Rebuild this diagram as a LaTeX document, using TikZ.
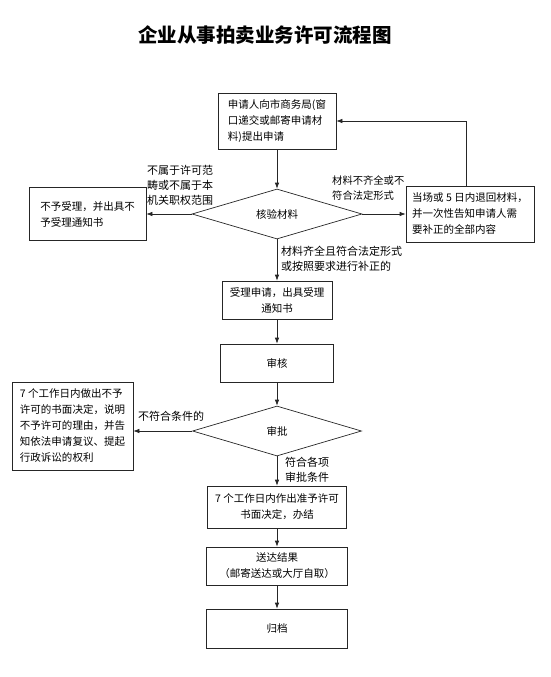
\documentclass[tikz,border=0pt]{standalone}
\usepackage{fontspec}
\setmainfont{Noto Sans CJK SC}
\usetikzlibrary{shapes.geometric,arrows.meta}

\begin{document}
\begin{tikzpicture}[x=1bp,y=-1bp,
  font=\fontsize{10.5bp}{16bp}\selectfont,
  box/.style={draw=black!85, line width=0.7bp, inner sep=0pt},
  dia/.style={draw=black!85, line width=0.7bp, diamond, aspect=3.4, inner sep=0pt,
    minimum width=170bp, minimum height=50bp},
  lab/.style={anchor=west, align=left, inner sep=0pt, font=\fontsize{11bp}{15bp}\selectfont},
  flow/.style={draw=black!85, line width=0.7bp, -{Latex[length=6bp,width=4.5bp]}}]
\def\xm{277}
\useasboundingbox (0,0) rectangle (551,677);
% title
\node[font=\fontsize{19.5bp}{22bp}\selectfont\bfseries] (title) at (265,35) {企业从事拍卖业务许可流程图};
% main column
\node[box, minimum width=118bp, minimum height=56bp, align=left] (apply) at (\xm,121)
  {申请人向市商务局(窗\\口递交或邮寄申请材\\料)提出申请};
\node[dia] (check) at (\xm,214) {核验材料};
\node[box, minimum width=117bp, minimum height=53bp, align=left] (reject) at (87.5,214)
  {不予受理，并出具不\\予受理通知书};
\node[box, minimum width=128bp, minimum height=56bp, align=left] (ret) at (470,214)
  {当场或 5 日内退回材料，\\并一次性告知申请人需\\要补正的全部内容};
\node[box, minimum width=110bp, minimum height=38bp, align=center] (accept) at (\xm,300)
  {受理申请，出具受理\\通知书};
\node[box, minimum width=113bp, minimum height=38bp] (review) at (\xm,363) {审核};
\node[dia, minimum width=169bp] (approve) at (\xm,431) {审批};
\node[box, minimum width=121bp, minimum height=88bp, align=left] (deny) at (72.5,426)
  {7 个工作日内做出不予\\许可的书面决定，说明\\不予许可的理由，并告\\知依法申请复议、提起\\行政诉讼的权利};
\node[box, minimum width=139bp, minimum height=42bp, align=center] (grant) at (\xm,507)
  {7 个工作日内作出准予许可\\书面决定，办结};
\node[box, minimum width=141bp, minimum height=38bp, align=center] (deliver) at (\xm,566)
  {送达结果\\（邮寄送达或大厅自取）};
\node[box, minimum width=141bp, minimum height=39bp] (archive) at (\xm,628.5) {归档};
% connectors
\draw[flow] (apply) -- (check);
\draw[flow] (check.west) -- (reject.east);
\draw[flow] (check.east) -- (ret.west);
\draw[flow] ([xshift=-4bp]ret.north) |- (apply.east);
\draw[flow] (check) -- (accept);
\draw[flow] (accept) -- (review);
\draw[flow] (review) -- (approve);
\draw[flow] (approve.west) -- (approve.west -| deny.east);
\draw[flow] (approve) -- (grant);
\draw[flow] (grant) -- (deliver);
\draw[flow] (deliver) -- (archive);
% labels
\node[lab] (l1) at (147,185.5) {不属于许可范\\畴或不属于本\\机关职权范围};
\node[lab, font=\fontsize{10.3bp}{15bp}\selectfont] (l2) at (332,188.5) {材料不齐全或不\\符合法定形式};
\node[lab] (l3) at (281,259) {材料齐全且符合法定形式\\或按照要求进行补正的};
\node[lab] (l4) at (138,416) {不符合条件的};
\node[lab] (l5) at (285,470) {符合各项\\审批条件};
\end{tikzpicture}
\end{document}
